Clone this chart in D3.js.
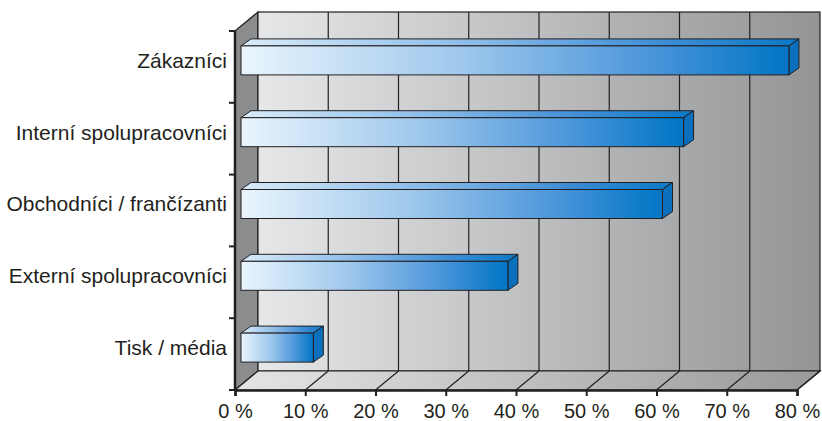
<!DOCTYPE html>
<html lang="cs">
<head>
<meta charset="utf-8">
<title>3D bar chart</title>
<script src="https://d3js.org/d3.v7.min.js"></script>
<style>
  body { margin: 0; background: #fff; }
  text { font-family: "Liberation Sans", Arial, sans-serif; fill: #231f20; }
</style>
</head>
<body>
<svg width="822" height="421"></svg>
<script>
// data
var categories = ["Zákazníci", "Interní spolupracovníci", "Obchodníci / frančízanti", "Externí spolupracovníci", "Tisk / média"];
var values = [78, 63, 60, 38, 10.3];
var tickValues = [0, 10, 20, 30, 40, 50, 60, 70, 80];

var svg = d3.select("svg");
var defs = svg.append("defs");

var x = d3.scaleLinear().domain([0, 80]).range([235, 797]);
var y = d3.scaleBand().domain(categories).range([31, 390]);

// depth of the box and of bars
var dx = 23, dy = -19;
var bdx = 10, bdy = -7;
var barH = 29, barShiftX = 6, barShiftY = -6.5;

function grad(id, stops) {
  var g = defs.append("linearGradient").attr("id", id)
      .attr("x1", "0%").attr("x2", "100%").attr("y1", "0%").attr("y2", "0%");
  stops.forEach(function(s) {
    g.append("stop").attr("offset", s[0]).attr("stop-color", s[1]);
  });
}
grad("wall", [["0%", "#e6e7e8"], ["100%", "#939496"]]);
grad("floor", [["0%", "#e4e5e6"], ["100%", "#98999b"]]);
grad("barFront", [["0%", "#e9f5fd"], ["40%", "#9fc8ec"], ["75%", "#4a95da"], ["100%", "#0075c4"]]);
grad("barTop", [["0%", "#d8ecfa"], ["40%", "#8fbde8"], ["75%", "#3f8ed6"], ["100%", "#0b78c6"]]);

var x0 = x(0), x1 = x(80), yT = y.range()[0], yB = y.range()[1];
function pts(a) { return a.map(function(p) { return p.join(","); }).join(" "); }

// left wall
svg.append("polygon")
  .attr("points", pts([[x0, yT], [x0 + dx, yT + dy], [x0 + dx, yB + dy], [x0, yB]]))
  .attr("fill", "#8b8c8e").attr("stroke", "#231f20").attr("stroke-width", 1.2);

// back wall
svg.append("rect")
  .attr("x", x0 + dx).attr("y", yT + dy)
  .attr("width", x1 - x0).attr("height", yB - yT)
  .attr("fill", "url(#wall)").attr("stroke", "#231f20").attr("stroke-width", 1.2);

// floor
svg.append("polygon")
  .attr("points", pts([[x0, yB], [x0 + dx, yB + dy], [x1 + dx, yB + dy], [x1, yB]]))
  .attr("fill", "url(#floor)").attr("stroke", "#231f20").attr("stroke-width", 1.2);

// grid on wall and floor
var grid = tickValues.slice(1);
svg.selectAll(".gridV").data(grid.slice(0, -1)).enter().append("line")
  .attr("x1", function(d) { return x(d) + dx; }).attr("x2", function(d) { return x(d) + dx; })
  .attr("y1", yT + dy).attr("y2", yB + dy)
  .attr("stroke", "#231f20").attr("stroke-width", 1.2);
svg.selectAll(".gridF").data(grid).enter().append("line")
  .attr("x1", function(d) { return x(d); }).attr("x2", function(d) { return x(d) + dx; })
  .attr("y1", yB).attr("y2", yB + dy)
  .attr("stroke", "#231f20").attr("stroke-width", 1.2);

// bars
var bars = svg.selectAll(".bar").data(categories).enter().append("g");
bars.each(function(c, i) {
  var g = d3.select(this);
  var xl = x(0) + barShiftX, xr = x(values[i]) + barShiftX;
  var yt = y(c) + y.bandwidth() / 2 + barShiftY - barH / 2, yb = yt + barH;
  g.append("polygon")
    .attr("points", pts([[xl, yt], [xl + bdx, yt + bdy], [xr + bdx, yt + bdy], [xr, yt]]))
    .attr("fill", "url(#barTop)").attr("stroke", "#231f20").attr("stroke-width", 1);
  g.append("polygon")
    .attr("points", pts([[xr, yt], [xr + bdx, yt + bdy], [xr + bdx, yb + bdy], [xr, yb]]))
    .attr("fill", "#0a6fbd").attr("stroke", "#231f20").attr("stroke-width", 1);
  g.append("rect")
    .attr("x", xl).attr("y", yt).attr("width", xr - xl).attr("height", barH)
    .attr("fill", "url(#barFront)").attr("stroke", "#231f20").attr("stroke-width", 1);
});

// bottom axis
var xAxis = svg.append("g")
  .attr("transform", "translate(0," + yB + ")")
  .call(d3.axisBottom(x).tickValues(tickValues).tickSize(6).tickPadding(8)
    .tickFormat(function(d) { return d + " %"; }));
xAxis.select(".domain").attr("stroke", "#231f20").attr("stroke-width", 2.5);
xAxis.selectAll(".tick line").attr("stroke", "#231f20").attr("stroke-width", 2);
xAxis.selectAll("text").style("font-size", "20px").style("font-family", "Liberation Sans, Arial, sans-serif").attr("fill", "#231f20");

// left axis line and ticks at band edges
svg.append("line").attr("x1", x0).attr("x2", x0).attr("y1", yT).attr("y2", yB)
  .attr("stroke", "#231f20").attr("stroke-width", 2.5);
var edges = categories.map(function(c) { return y(c); }).concat([yB]);
svg.selectAll(".ytick").data(edges).enter().append("line")
  .attr("x1", x0 - 6).attr("x2", x0).attr("y1", function(d) { return d; }).attr("y2", function(d) { return d; })
  .attr("stroke", "#231f20").attr("stroke-width", 2);

// category labels
svg.selectAll(".label").data(categories).enter().append("text")
  .attr("x", 227)
  .attr("y", function(c) { return y(c) + y.bandwidth() / 2 + barShiftY; })
  .attr("dy", "0.35em")
  .attr("text-anchor", "end")
  .style("font-size", "21px")
  .text(function(c) { return c; });
</script>
</body>
</html>
